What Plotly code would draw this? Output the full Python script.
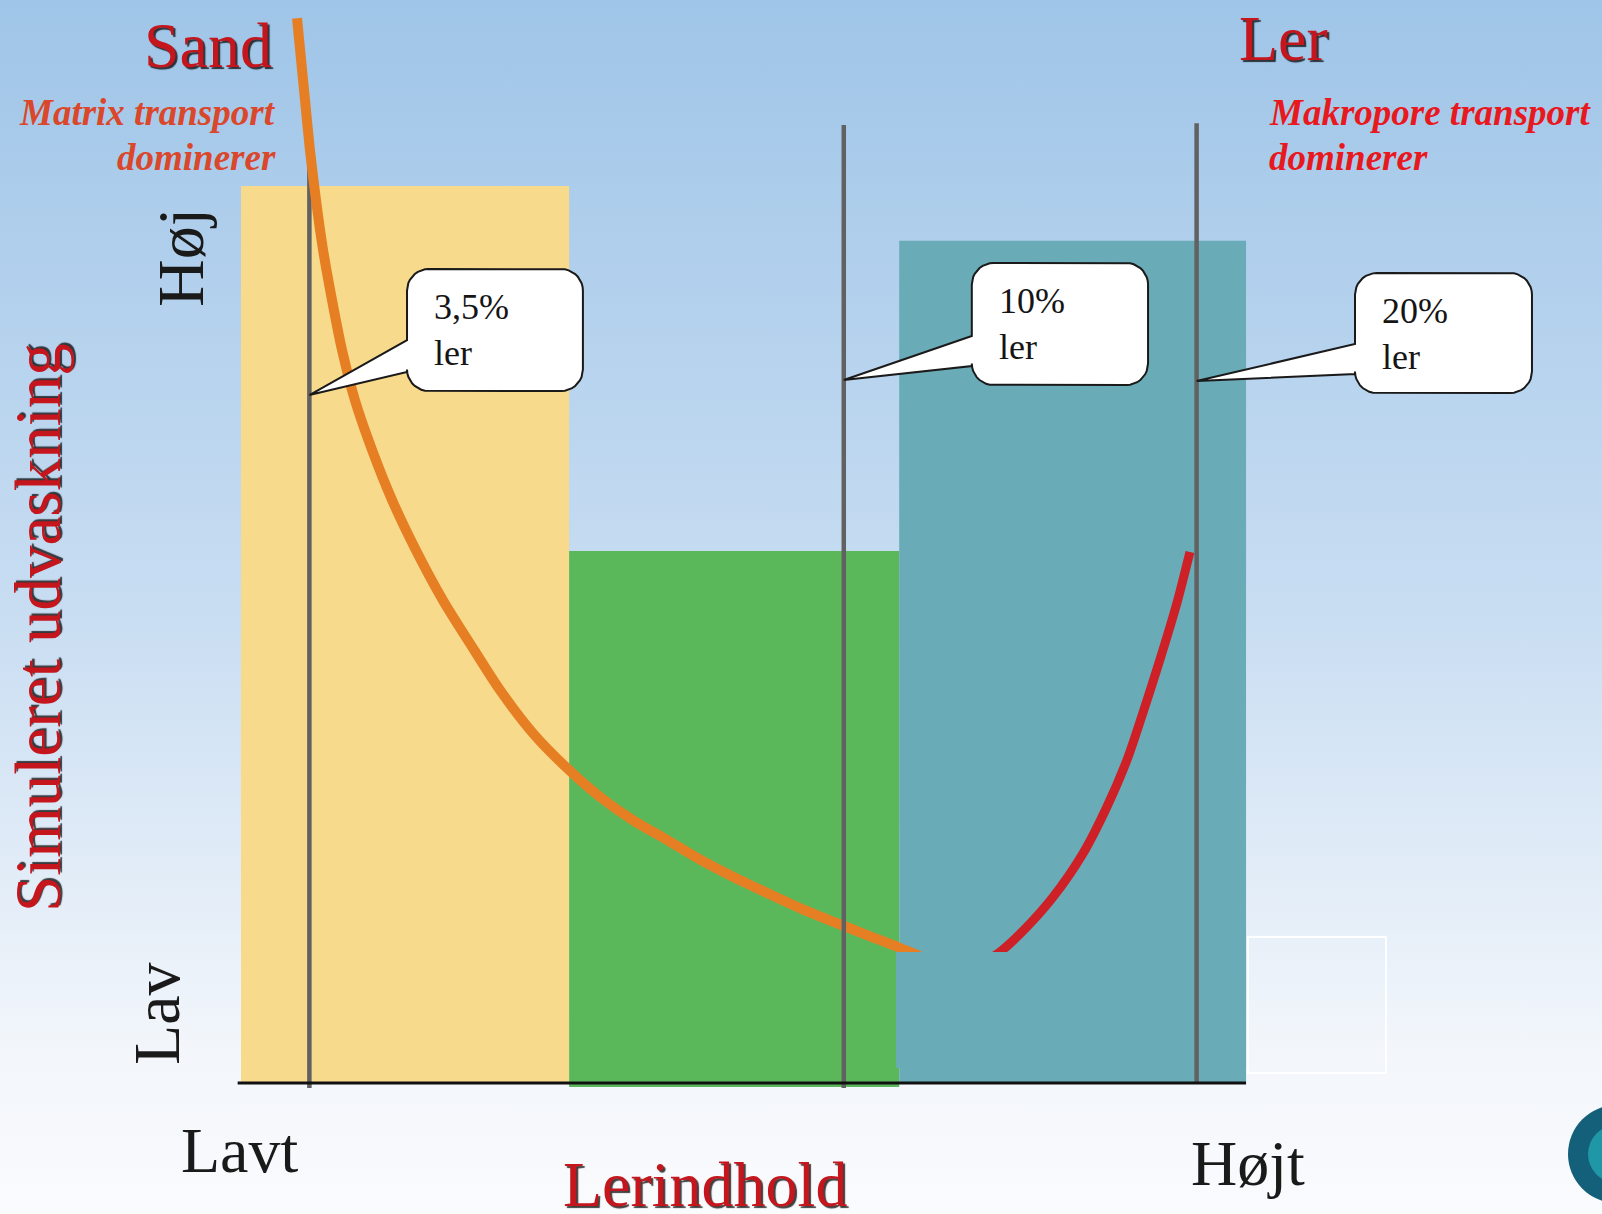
import base64
import numpy as np
import plotly.graph_objects as go

# ---------------------------------------------------------------
# Data: clay content (%) on a log axis, simulated leaching 0-100
# ---------------------------------------------------------------
soil_classes = ["Sand", "Mellem", "Ler"]
class_left = [3.06, 5.83, 11.15]
class_right = [5.83, 11.15, 22.04]
class_base = [0.0, -0.45, 0.0]
class_leaching = [100.0, 59.3, 93.9]
class_colors = ["#F8DA8C", "#5BB85A", "#6AABB8"]

# Clay content of the three simulated soils
clay_pct = [3.5, 10, 20]
line_top = [106.8, 106.8, 107.0]
line_bottom = [-0.55, -0.55, 0.0]

# Matrix transport (dominates in sandy soils)
matrix_clay = [3.416, 3.443, 3.470, 3.504, 3.546, 3.595, 3.659, 3.732, 3.828,
               3.958, 4.117, 4.315, 4.551, 4.836, 5.090, 5.430, 5.828, 6.194,
               6.609, 7.068, 7.542, 8.044, 8.599, 9.176, 9.790, 10.466,
               11.101, 11.729]
matrix_leach = [118.7, 114.1, 109.6, 104.0, 98.4, 92.9, 87.3, 81.7, 76.1,
                70.6, 65.0, 59.4, 53.8, 48.3, 43.8, 39.0, 34.9, 31.9,
                29.3, 27.1, 24.9, 23.0, 21.2, 19.5, 18.0, 16.5, 15.2, 13.9]

# Macropore transport (dominates in clayey soils)
macro_clay = [13.20, 13.65, 14.33, 15.08, 16.00, 16.77, 17.44, 18.00, 18.61,
              19.24, 19.74]
macro_leach = [13.5, 14.8, 17.4, 20.7, 25.6, 30.8, 36.0, 41.3, 47.2, 53.5, 59.2]

# Low patch of the clay block that sits over the curve ends
patch_clay = [11.08, 22.04]
patch_leach = [1.7, 14.6]

# Speech-bubble callouts pointing at the clay lines
callout_left = [4.24, 12.86, 27.30]
callout_right = [5.99, 18.18, 38.65]
callout_top = [90.75, 91.42, 90.30]
callout_bottom = [77.15, 77.81, 76.92]
callout_base_hi = [82.83, 83.28, 82.39]
callout_base_lo = [79.26, 79.93, 79.04]
callout_tip = [76.70, 78.37, 78.26]

axis_start, axis_end = 3.04, 22.04

# ---------------------------------------------------------------
W, H = 1602, 1214
X_LOG_RANGE = [0.2801, 1.6469]
Y_RANGE = [-14.6, 120.74]
SERIF = "Liberation Serif"
DARK_RED = "#C5161D"
SHADOW = "2px 2px 1px rgba(0,0,0,0.75)"


def px(x, y):
    """pixel position -> paper coordinates (for free-floating slide text)"""
    return x / W, 1 - y / H


def rect_trace(x0, x1, y0, y1, color):
    return go.Scatter(x=[x0, x1, x1, x0, x0], y=[y0, y0, y1, y1, y0],
                      mode="lines", fill="toself", fillcolor=color,
                      line=dict(width=0), hoverinfo="skip")


def callout_outline(tip_x, tip_y, x0, x1, y0, y1, hi, lo,
                    rx=0.0185, ry=2.4, n=10):
    lx0, lx1, lt = np.log10(x0), np.log10(x1), np.log10(tip_x)

    def arc(cx, cy, a0, a1):
        t = np.linspace(a0, a1, n)
        return [(cx + rx * np.cos(a), cy + ry * np.sin(a)) for a in t]

    pts = [(lt, tip_y), (lx0, hi)]
    pts += arc(lx0 + rx, y1 - ry, np.pi, np.pi / 2)
    pts += arc(lx1 - rx, y1 - ry, np.pi / 2, 0)
    pts += arc(lx1 - rx, y0 + ry, 0, -np.pi / 2)
    pts += arc(lx0 + rx, y0 + ry, -np.pi / 2, -np.pi)
    pts += [(lx0, lo), (lt, tip_y)]
    return [10 ** p[0] for p in pts], [p[1] for p in pts]


fig = go.Figure()

# soil class blocks
for i in range(len(soil_classes)):
    fig.add_trace(rect_trace(class_left[i], class_right[i], class_base[i],
                             class_leaching[i], class_colors[i]))

line_style = dict(color="#616161", width=4.5)

# first clay line sits under the matrix curve
fig.add_trace(go.Scatter(x=[clay_pct[0]] * 2, y=[line_bottom[0], line_top[0]],
                         mode="lines", line=line_style, hoverinfo="skip"))

fig.add_trace(go.Scatter(x=matrix_clay, y=matrix_leach, mode="lines",
                         line=dict(color="#E67F24", width=10, shape="spline",
                                   smoothing=0.8),
                         hoverinfo="skip", cliponaxis=False))
fig.add_trace(go.Scatter(x=macro_clay, y=macro_leach, mode="lines",
                         line=dict(color="#CD2027", width=9, shape="spline",
                                   smoothing=0.8),
                         hoverinfo="skip"))

fig.add_trace(rect_trace(patch_clay[0], patch_clay[1], patch_leach[0],
                         patch_leach[1], class_colors[2]))

for i in (1, 2):
    fig.add_trace(go.Scatter(x=[clay_pct[i]] * 2, y=[line_bottom[i], line_top[i]],
                             mode="lines", line=line_style, hoverinfo="skip"))

# baseline of the chart
fig.add_trace(go.Scatter(x=[axis_start, axis_end], y=[0, 0], mode="lines",
                         line=dict(color="#111111", width=3), hoverinfo="skip"))

annotations = []
for i, v in enumerate(clay_pct):
    cx, cy = callout_outline(v, callout_tip[i], callout_left[i], callout_right[i],
                             callout_bottom[i], callout_top[i],
                             callout_base_hi[i], callout_base_lo[i])
    fig.add_trace(go.Scatter(x=cx, y=cy, mode="lines", fill="toself",
                             fillcolor="white",
                             line=dict(color="#1A1A1A", width=2),
                             hoverinfo="skip"))
    pct = f"{v:g}".replace(".", ",") + "%"
    for text, dy in ((pct, -38), ("ler", -84)):
        annotations.append(dict(
            x=np.log10(callout_left[i]), y=callout_top[i], xref="x", yref="y",
            text=text, showarrow=False, xanchor="left", yanchor="middle",
            xshift=25, yshift=dy,
            font=dict(family=SERIF, size=36, color="#151515")))


def label(text, x, y, size, color="#1A1A1A", xanchor="center", angle=0,
          shadow=None):
    px_x, px_y = px(x, y)
    font = dict(family=SERIF, size=size, color=color)
    if shadow:
        font["shadow"] = shadow
    annotations.append(dict(x=px_x, y=px_y, xref="paper", yref="paper",
                            text=text, showarrow=False, xanchor=xanchor,
                            yanchor="middle", textangle=angle, font=font))


label("Sand", 274, 45, 64, DARK_RED, xanchor="right", shadow=SHADOW)
label("Ler", 1283, 38, 64, DARK_RED, shadow=SHADOW)
label("<b><i>Matrix transport</i></b>", 278, 113, 37, "#DA472B", xanchor="right")
label("<b><i>dominerer</i></b>", 278, 157, 37, "#DA472B", xanchor="right")
label("<b><i>Makropore transport</i></b>", 1267, 113, 37, "#E8191E", xanchor="left")
label("<b><i>dominerer</i></b>", 1267, 157, 37, "#E8191E", xanchor="left")
label("Høj", 180, 258, 66, angle=-90)
label("Lav", 156, 1014, 66, angle=-90)
label("Simuleret udvaskning", 38, 628, 65, DARK_RED, angle=-90, shadow=SHADOW)
label("Lavt", 240, 1150, 64)
label("Højt", 1248, 1163, 64)
label("Lerindhold", 705, 1184, 64, DARK_RED, shadow=SHADOW)

# slide background: light blue fading to white
svg = ('<svg xmlns="http://www.w3.org/2000/svg" width="10" height="100" '
       'viewBox="0 0 10 100" preserveAspectRatio="none"><defs>'
       '<linearGradient id="g" x1="0" y1="0" x2="0" y2="1">'
       '<stop offset="0" stop-color="#9FC5E8"/>'
       '<stop offset="0.5" stop-color="#C8DDF2"/>'
       '<stop offset="0.86" stop-color="#F2F6FB"/>'
       '<stop offset="1" stop-color="#FAFBFD"/>'
       '</linearGradient></defs>'
       '<rect width="10" height="100" fill="url(#g)"/></svg>')
bg_src = "data:image/svg+xml;base64," + base64.b64encode(svg.encode()).decode()

shapes = []
# faint white frame right of the clay block
fx0, fy0 = px(1248, 937)
fx1, fy1 = px(1386, 1073)
shapes.append(dict(type="rect", xref="paper", yref="paper", x0=fx0, x1=fx1,
                   y0=fy1, y1=fy0, line=dict(color="rgba(255,255,255,0.9)", width=2),
                   fillcolor="rgba(0,0,0,0)", layer="below"))
# logo in the corner
for (r, col) in ((49, "#14607A"), (29, "#1F97A6")):
    a0, b0 = px(1617 - r, 1154 + r)
    a1, b1 = px(1617 + r, 1154 - r)
    shapes.append(dict(type="circle", xref="paper", yref="paper",
                       x0=a0, x1=a1, y0=b0, y1=b1, fillcolor=col,
                       line=dict(width=0)))

fig.update_layout(
    width=W, height=H,
    margin=dict(l=0, r=0, t=0, b=0),
    paper_bgcolor="white",
    plot_bgcolor="rgba(0,0,0,0)",
    showlegend=False,
    xaxis=dict(type="log", range=X_LOG_RANGE, visible=False, fixedrange=True),
    yaxis=dict(range=Y_RANGE, visible=False, fixedrange=True),
    annotations=annotations,
    shapes=shapes,
    images=[dict(source=bg_src, xref="paper", yref="paper", x=0, y=1,
                 sizex=1, sizey=1, sizing="stretch", layer="below",
                 xanchor="left", yanchor="top")],
)

fig.write_html("out.html", config={"displayModeBar": False})
